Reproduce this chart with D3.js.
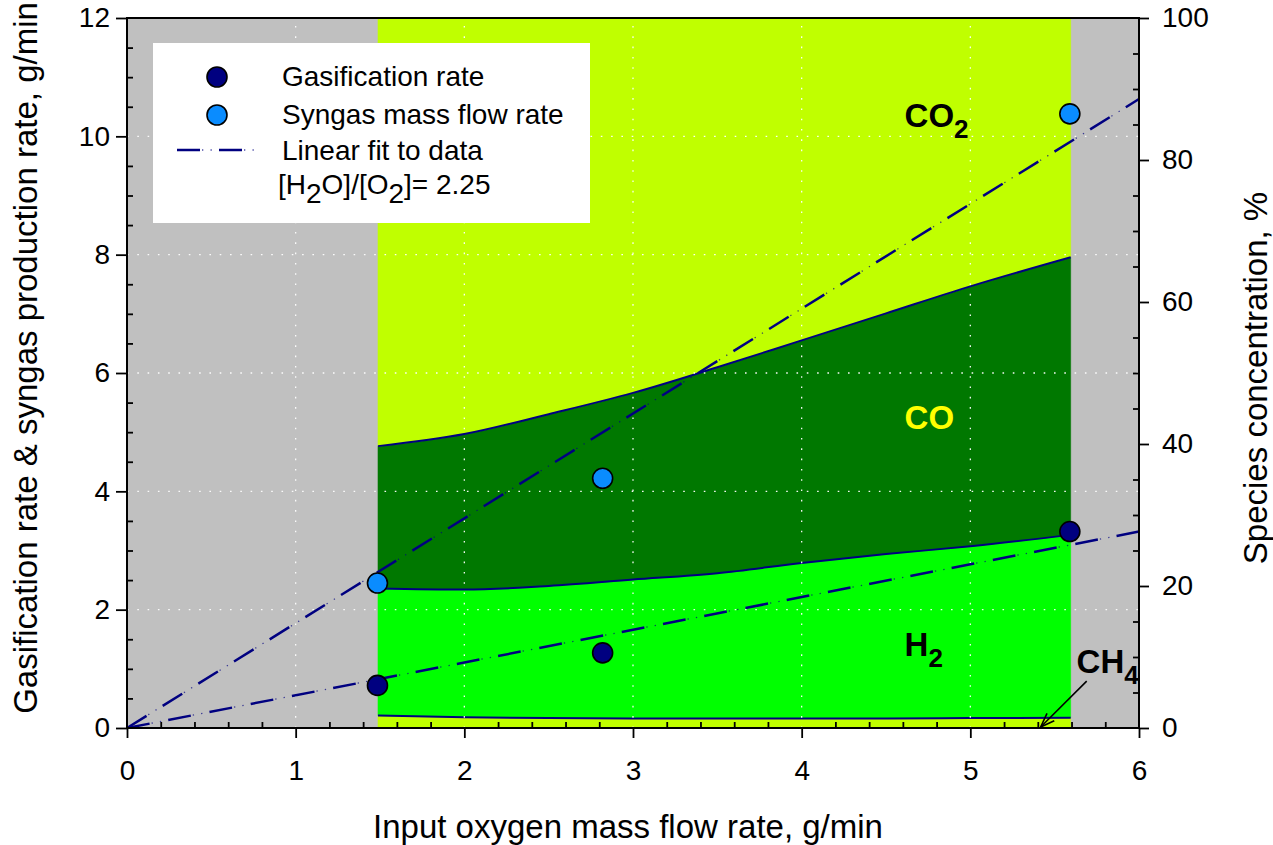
<!DOCTYPE html>
<html><head><meta charset="utf-8">
<script src="https://cdn.jsdelivr.net/npm/d3@7/dist/d3.min.js"></script>
<style>
body{margin:0;background:#fff;}
text{font-family:"Liberation Sans",Arial,Helvetica,sans-serif;}
</style>
</head><body>
<svg id="chart" width="1273" height="845"></svg>
<script>
// ---------------- data ----------------
const oxygenX = [1.485, 2.82, 5.59];
const gasificationRate = [0.72, 1.27, 3.32];
const syngasRate = [2.45, 4.22, 10.38];

const fitX = [0, 6];
const gasificationFit = [0, 3.32];
const syngasFit = [0, 10.63];

const speciesX = [1.488, 2.0, 2.5, 3.0, 3.5, 4.0, 4.5, 5.0, 5.595];
const ch4 = [1.75, 1.5, 1.4, 1.35, 1.35, 1.35, 1.35, 1.4, 1.45];
const h2  = [17.9, 18.0, 18.6, 19.55, 20.45, 21.89, 23.15, 24.2, 25.75];
const co  = [20.05, 21.9, 24.2, 26.3, 29.0, 31.36, 33.9, 36.6, 39.1];
const co2 = [60.3, 58.6, 55.8, 52.8, 49.2, 45.4, 41.6, 37.8, 33.7];

const xTicks = [0, 1, 2, 3, 4, 5, 6];
const yTicks = [0, 2, 4, 6, 8, 10, 12];
const y2Ticks = [0, 20, 40, 60, 80, 100];

// ---------------- layout ----------------
const L = 127, R = 1139, T = 18, B = 728;
const svg = d3.select("#chart");
const x = d3.scaleLinear().domain([0, 6]).range([L, R]);
const y = d3.scaleLinear().domain([0, 12]).range([B, T]);
const y2 = d3.scaleLinear().domain([0, 100]).range([B, T]);

const NAVY = "#000080";
const colors = {CH4: "#c0ff00", H2: "#00ff00", CO: "#007800", CO2: "#c0ff00"};

// background
svg.append("rect").attr("x", L).attr("y", T).attr("width", R - L).attr("height", B - T).attr("fill", "#c0c0c0");

// stacked species
const table = speciesX.map((xv, i) => ({x: xv, CH4: ch4[i], H2: h2[i], CO: co[i], CO2: co2[i]}));
const keys = ["CH4", "H2", "CO", "CO2"];
const stacked = d3.stack().keys(keys)(table);
const area = d3.area().x(d => x(d.data.x)).y0(d => y2(d[0])).y1(d => y2(d[1])).curve(d3.curveMonotoneX);
svg.append("g").selectAll("path").data(stacked).join("path")
  .attr("d", area).attr("fill", d => colors[d.key]).attr("stroke", d => colors[d.key]).attr("stroke-width", 0.5);

const topLine = d3.line().x(d => x(d.data.x)).y(d => y2(d[1])).curve(d3.curveMonotoneX);
svg.append("g").selectAll("path").data(stacked.slice(0, 3)).join("path")
  .attr("d", topLine).attr("fill", "none").attr("stroke", NAVY).attr("stroke-width", 2);

// grid
const grid = svg.append("g").attr("stroke", "#ffffff").attr("stroke-width", 1.3)
  .attr("stroke-dasharray", "1.6,8.7").attr("opacity", 0.95);
grid.selectAll("line.v").data(xTicks.slice(1, -1)).join("line")
  .attr("x1", d => x(d)).attr("x2", d => x(d)).attr("y1", B).attr("y2", T);
grid.selectAll("line.h").data(yTicks.slice(1, -1)).join("line")
  .attr("y1", d => y(d)).attr("y2", d => y(d)).attr("x1", L).attr("x2", R);

// legend box
const lg = svg.append("g");
lg.append("rect").attr("x", 153).attr("y", 43).attr("width", 437).attr("height", 180).attr("fill", "#fff");

// dash-dot-dot line drawer
function dashDotDot(sel, d) {
  sel.append("path").attr("d", d).attr("fill", "none").attr("stroke", NAVY)
    .attr("stroke-width", 2.5).attr("stroke-dasharray", "23,19");
  sel.append("path").attr("d", d).attr("fill", "none").attr("stroke", NAVY).attr("opacity", 0.7)
    .attr("stroke-width", 1.3).attr("stroke-dasharray", "0,25,1.3,7.2,1.3,7.2");
}

// fit lines
const fitLine = d3.line().x((d, i) => x(fitX[i])).y(d => y(d));
[gasificationFit, syngasFit].forEach(f => dashDotDot(svg.append("g"), fitLine(f)));

// points
svg.append("g").selectAll("circle").data(oxygenX).join("circle")
  .attr("cx", d => x(d)).attr("cy", (d, i) => y(syngasRate[i])).attr("r", 10)
  .attr("fill", "#0a8cff").attr("stroke", "#000").attr("stroke-width", 1.6);
svg.append("g").selectAll("circle").data(oxygenX).join("circle")
  .attr("cx", d => x(d)).attr("cy", (d, i) => y(gasificationRate[i])).attr("r", 10)
  .attr("fill", NAVY).attr("stroke", "#000").attr("stroke-width", 1.6);

// legend contents
lg.append("circle").attr("cx", 217).attr("cy", 77).attr("r", 10).attr("fill", NAVY).attr("stroke", "#000").attr("stroke-width", 1.6);
lg.append("circle").attr("cx", 217).attr("cy", 115).attr("r", 10).attr("fill", "#0a8cff").attr("stroke", "#000").attr("stroke-width", 1.6);
dashDotDot(lg.append("g"), "M177,150H256");
const legText = [["Gasification rate", 86], ["Syngas mass flow rate", 124], ["Linear fit to data", 160]];
legText.forEach(([t, yy]) => lg.append("text").attr("x", 282).attr("y", yy).attr("font-size", 28).text(t));
const ratio = lg.append("text").attr("x", 278).attr("y", 194).attr("font-size", 28);
ratio.append("tspan").text("[H");
ratio.append("tspan").attr("dy", 9).text("2");
ratio.append("tspan").attr("dy", -9).text("O]/[O");
ratio.append("tspan").attr("dy", 9).text("2");
ratio.append("tspan").attr("dy", -9).text("]= 2.25");

// species labels
function label(txt, sub, xv, yv, fill) {
  const t = svg.append("text").attr("x", x(xv)).attr("y", y2(yv)).attr("font-size", 33)
    .attr("font-weight", "bold").attr("fill", fill);
  t.append("tspan").text(txt);
  if (sub) t.append("tspan").attr("dy", 11).attr("font-size", 26).text(sub);
}
label("CO", "2", 4.61, 84.7, "#000");
label("CO", null, 4.61, 42.1, "#ffff00");
label("H", "2", 4.61, 10.1, "#000");
label("CH", "4", 5.63, 7.75, "#000");
// arrow for CH4
const ax1 = x(5.69), ay1 = y2(6.6), ax2 = x(5.417), ay2 = y2(0.14);
svg.append("line").attr("x1", ax1).attr("y1", ay1).attr("x2", ax2).attr("y2", ay2).attr("stroke", "#000").attr("stroke-width", 1.6);
const ang = Math.atan2(ay2 - ay1, ax2 - ax1);
[0.35, -0.35].forEach(da => {
  svg.append("line").attr("x1", ax2).attr("y1", ay2)
    .attr("x2", ax2 - 15 * Math.cos(ang + da)).attr("y2", ay2 - 15 * Math.sin(ang + da))
    .attr("stroke", "#000").attr("stroke-width", 1.6);
});

// axes
function styleAxis(g) {
  g.select(".domain").remove();
  g.selectAll("line").attr("stroke", "#000").attr("stroke-width", 1.8);
  g.selectAll("text").attr("font-size", 28).attr("fill", "#000")
    .attr("font-family", '"Liberation Sans",Arial,sans-serif');
}
const xMinor = d3.range(0, 6.001, 0.2).filter(v => Math.abs(v - Math.round(v)) > 1e-6);
const yMinor = d3.range(0, 12.001, 0.5).filter(v => Math.abs(v / 2 - Math.round(v / 2)) > 1e-6);
const y2Minor = d3.range(0, 100.001, 5).filter(v => v % 20 !== 0);

svg.append("g").attr("transform", `translate(0,${B})`)
  .call(d3.axisBottom(x).tickValues(xTicks).tickSize(10).tickPadding(22).tickFormat(d3.format("d"))).call(styleAxis);
svg.append("g").attr("transform", `translate(0,${B})`)
  .call(d3.axisBottom(x).tickValues(xMinor).tickSize(-6).tickFormat("")).call(styleAxis);
svg.append("g").attr("transform", `translate(${L},0)`)
  .call(d3.axisLeft(y).tickValues(yTicks).tickSize(11).tickPadding(6).tickFormat(d3.format("d"))).call(styleAxis);
svg.append("g").attr("transform", `translate(${L},0)`)
  .call(d3.axisLeft(y).tickValues(yMinor).tickSize(-6).tickFormat("")).call(styleAxis);
svg.append("g").attr("transform", `translate(${R},0)`)
  .call(d3.axisRight(y2).tickValues(y2Ticks).tickSize(10).tickPadding(13).tickFormat(d3.format("d"))).call(styleAxis);
svg.append("g").attr("transform", `translate(${R},0)`)
  .call(d3.axisRight(y2).tickValues(y2Minor).tickSize(-6).tickFormat("")).call(styleAxis);

// frame
svg.append("rect").attr("x", L).attr("y", T).attr("width", R - L).attr("height", B - T)
  .attr("fill", "none").attr("stroke", "#000").attr("stroke-width", 2);

// axis titles
svg.append("text").attr("x", 628).attr("y", 838).attr("text-anchor", "middle").attr("font-size", 33)
  .text("Input oxygen mass flow rate, g/min");
svg.append("text").attr("transform", "translate(37,358) rotate(-90)").attr("text-anchor", "middle").attr("font-size", 33)
  .text("Gasification rate & syngas production rate, g/min");
svg.append("text").attr("transform", "translate(1267,378) rotate(-90)").attr("text-anchor", "middle").attr("font-size", 33)
  .text("Species concentration, %");
</script>
</body></html>
